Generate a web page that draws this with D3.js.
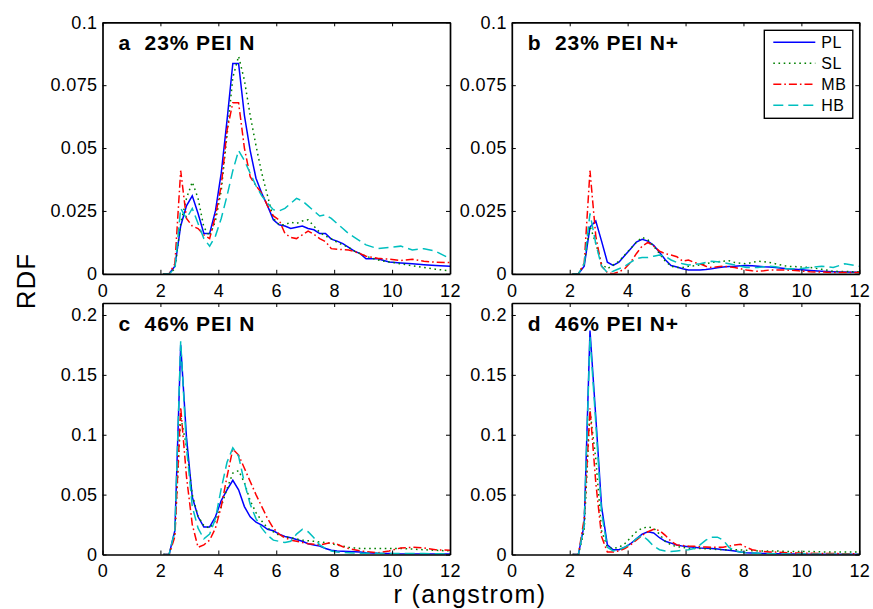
<!DOCTYPE html>
<html>
<head>
<meta charset="utf-8">
<script src="https://cdn.jsdelivr.net/npm/d3@7"></script>
<style>
  body { margin: 0; background: #fff; }
  text { font-family: "Liberation Sans", Arial, Helvetica, sans-serif; }
</style>
</head>
<body>
<svg id="chart" width="873" height="609"></svg>
<script>
// r grid (angstrom), shared by every curve; everything below 2.1 is zero
var R = [2.1, 2.3, 2.5, 2.7, 2.9, 3.1, 3.3, 3.5, 3.7, 3.9, 4.1, 4.3, 4.5, 4.7, 4.9, 5.1, 5.3, 5.5, 5.7, 5.9,
  6.1, 6.3, 6.5, 6.7, 6.9, 7.1, 7.3, 7.5, 7.7, 7.9, 8.1, 8.3, 8.5, 8.7, 8.9, 9.1, 9.5, 9.9, 10.3, 10.7, 11.1, 11.5, 12];

var SERIES_NAMES = ["PL", "SL", "MB", "HB"];
var X_TICKS = [0, 2, 4, 6, 8, 10, 12];
var Y_TICKS_23 = [0, 0.025, 0.05, 0.075, 0.1];
var Y_TICKS_46 = [0, 0.05, 0.1, 0.15, 0.2];
var PANEL_TITLES = ["a  23% PEI N", "b  23% PEI N+", "c  46% PEI N", "d  46% PEI N+"];

// a: 23% PEI N
var pl23N = [0, 0, 0.003, 0.019, 0.027, 0.031, 0.024, 0.016, 0.016, 0.025, 0.040, 0.061, 0.0836, 0.0836, 0.063, 0.049, 0.038, 0.032, 0.027, 0.0215,
  0.0195, 0.019, 0.018, 0.0185, 0.019, 0.018, 0.0175, 0.016, 0.016, 0.0138, 0.013, 0.012, 0.0105, 0.009, 0.008, 0.006, 0.006, 0.0047, 0.0043, 0.004, 0.0036, 0.0033, 0.003];
var sl23N = [0, 0, 0.002, 0.02, 0.03, 0.0365, 0.030, 0.0185, 0.015, 0.021, 0.033, 0.055, 0.078, 0.0865, 0.077, 0.063, 0.051, 0.040, 0.031, 0.022,
  0.0195, 0.0195, 0.0205, 0.020, 0.021, 0.0215, 0.019, 0.0165, 0.015, 0.014, 0.0125, 0.0115, 0.0105, 0.009, 0.008, 0.007, 0.0055, 0.0047, 0.004, 0.0032, 0.0025, 0.0018, 0.0012];
var mb23N = [0, 0, 0.004, 0.041, 0.022, 0.019, 0.018, 0.0155, 0.014, 0.023, 0.035, 0.057, 0.068, 0.068, 0.050, 0.0386, 0.035, 0.032, 0.027, 0.023,
  0.0214, 0.016, 0.0145, 0.014, 0.0155, 0.017, 0.0157, 0.014, 0.0128, 0.010, 0.0098, 0.0096, 0.0095, 0.0088, 0.008, 0.007, 0.0062, 0.0058, 0.0053, 0.0058, 0.005, 0.0046, 0.0045];
var hb23N = [0, 0, 0.002, 0.026, 0.022, 0.026, 0.020, 0.014, 0.011, 0.015, 0.022, 0.031, 0.041, 0.049, 0.045, 0.040, 0.035, 0.031, 0.028, 0.0255,
  0.025, 0.026, 0.028, 0.030, 0.029, 0.027, 0.025, 0.023, 0.0235, 0.022, 0.020, 0.018, 0.016, 0.0145, 0.013, 0.0115, 0.010, 0.0105, 0.011, 0.0095, 0.010, 0.009, 0.006];

// b: 23% PEI N+
var pl23Np = [0, 0, 0.003, 0.0186, 0.021, 0.013, 0.0046, 0.0033, 0.0046, 0.0073, 0.0099, 0.0126, 0.0137, 0.013, 0.0113, 0.0086, 0.0056, 0.0033, 0.0027, 0.002,
  0.0015, 0.0015, 0.0015, 0.0017, 0.002, 0.0024, 0.0027, 0.0029, 0.003, 0.0032, 0.0033, 0.0032, 0.003, 0.0028, 0.0027, 0.0025, 0.002, 0.0017, 0.0013, 0.001, 0.0008, 0.0007, 0.0006];
var sl23Np = [0, 0, 0.004, 0.019, 0.012, 0.004, 0.002, 0.0035, 0.005, 0.0075, 0.010, 0.0125, 0.0145, 0.0135, 0.011, 0.008, 0.005, 0.003, 0.0025, 0.0025,
  0.003, 0.0032, 0.0035, 0.004, 0.0045, 0.0048, 0.005, 0.0052, 0.0045, 0.0042, 0.004, 0.0045, 0.005, 0.0048, 0.0045, 0.004, 0.003, 0.0028, 0.0025, 0.0018, 0.001, 0.0009, 0.0008];
var mb23Np = [0, 0, 0.004, 0.041, 0.015, 0.003, 0.0005, 0, 0.0008, 0.002, 0.0045, 0.008, 0.011, 0.0125, 0.011, 0.009, 0.008, 0.0075, 0.0068, 0.005,
  0.0055, 0.0045, 0.004, 0.003, 0.0025, 0.0028, 0.003, 0.0028, 0.0025, 0.002, 0.0015, 0.0012, 0.001, 0.0012, 0.0015, 0.0015, 0.0015, 0.0012, 0.0008, 0.0007, 0.0005, 0.0005, 0.0005];
var hb23Np = [0, 0, 0.004, 0.024, 0.012, 0.003, 0.0005, 0.001, 0.002, 0.003, 0.0045, 0.006, 0.0065, 0.0065, 0.007, 0.0075, 0.007, 0.0055, 0.0045, 0.004,
  0.0035, 0.0037, 0.004, 0.0045, 0.005, 0.0048, 0.0045, 0.004, 0.0035, 0.003, 0.0025, 0.0025, 0.0025, 0.0028, 0.003, 0.0028, 0.002, 0.002, 0.0025, 0.003, 0.0025, 0.004, 0.003];

// c: 46% PEI N
var pl46N = [0, 0, 0.02, 0.175, 0.098, 0.048, 0.0315, 0.023, 0.023, 0.0315, 0.045, 0.054, 0.062, 0.054, 0.040, 0.0315, 0.027, 0.0245, 0.021, 0.0198,
  0.017, 0.015, 0.014, 0.0125, 0.011, 0.009, 0.008, 0.007, 0.005, 0.0035, 0.003, 0.0028, 0.0025, 0.0022, 0.002, 0.0015, 0.001, 0.0008, 0.0005, 0.0005, 0.0005, 0.0005, 0.0005];
var sl46N = [0, 0, 0.018, 0.115, 0.09, 0.05, 0.032, 0.024, 0.022, 0.028, 0.040, 0.055, 0.068, 0.070, 0.060, 0.045, 0.035, 0.028, 0.022, 0.019,
  0.016, 0.0145, 0.014, 0.013, 0.012, 0.0115, 0.011, 0.0105, 0.010, 0.009, 0.008, 0.007, 0.006, 0.0055, 0.005, 0.005, 0.005, 0.005, 0.005, 0.0045, 0.004, 0.0035, 0.003];
var mb46N = [0, 0, 0.015, 0.123, 0.065, 0.025, 0.006, 0.008, 0.012, 0.022, 0.040, 0.065, 0.088, 0.083, 0.072, 0.061, 0.050, 0.040, 0.030, 0.022,
  0.017, 0.014, 0.012, 0.011, 0.010, 0.009, 0.0085, 0.008, 0.009, 0.010, 0.0085, 0.0065, 0.005, 0.004, 0.003, 0.0025, 0.0015, 0.003, 0.0055, 0.006, 0.0055, 0.004, 0.0035];
var hb46N = [0, 0, 0.02, 0.178, 0.09, 0.04, 0.022, 0.013, 0.017, 0.030, 0.055, 0.077, 0.089, 0.082, 0.060, 0.042, 0.030, 0.022, 0.016, 0.012,
  0.011, 0.010, 0.011, 0.017, 0.021, 0.019, 0.014, 0.008, 0.005, 0.003, 0.002, 0.0018, 0.0015, 0.0012, 0.001, 0.001, 0.001, 0.0009, 0.0008, 0.0008, 0.0008, 0.0006, 0.0005];

// d: 46% PEI N+
var pl46Np = [0, 0, 0.025, 0.187, 0.115, 0.04, 0.008, 0.004, 0.004, 0.006, 0.009, 0.013, 0.017, 0.019, 0.018, 0.014, 0.011, 0.0095, 0.008, 0.007,
  0.0065, 0.006, 0.0055, 0.0052, 0.005, 0.0045, 0.004, 0.0035, 0.003, 0.002, 0.0015, 0.0012, 0.001, 0.0009, 0.0008, 0.0007, 0.0005, 0.0004, 0.0003, 0.0003, 0.0003, 0.0003, 0.0003];
var sl46Np = [0, 0, 0.02, 0.12, 0.08, 0.02, 0.006, 0.005, 0.006, 0.009, 0.014, 0.019, 0.022, 0.023, 0.022, 0.017, 0.011, 0.008, 0.0065, 0.006,
  0.005, 0.005, 0.005, 0.0048, 0.0045, 0.0042, 0.004, 0.004, 0.004, 0.0038, 0.0035, 0.0032, 0.003, 0.003, 0.003, 0.003, 0.0025, 0.0025, 0.0025, 0.0022, 0.002, 0.002, 0.002];
var mb46Np = [0, 0, 0.03, 0.122, 0.06, 0.015, 0.002, 0.002, 0.003, 0.005, 0.008, 0.012, 0.016, 0.019, 0.021, 0.020, 0.016, 0.011, 0.008, 0.0075,
  0.007, 0.0068, 0.0065, 0.0062, 0.006, 0.006, 0.006, 0.007, 0.008, 0.0085, 0.006, 0.004, 0.003, 0.0025, 0.002, 0.002, 0.0015, 0.0012, 0.001, 0.0009, 0.0008, 0.0006, 0.0005];
var hb46Np = [0, 0, 0.025, 0.182, 0.11, 0.035, 0.006, 0.003, 0.004, 0.006, 0.009, 0.013, 0.016, 0.012, 0.007, 0.004, 0.003, 0.0025, 0.003, 0.0035,
  0.004, 0.005, 0.008, 0.012, 0.0145, 0.0145, 0.012, 0.006, 0.003, 0.002, 0.0015, 0.0012, 0.001, 0.0008, 0.0007, 0.0006, 0.0005, 0.0004, 0.0004, 0.0003, 0.0003, 0.0003, 0.0003];

// layout
var PANEL_W = 347.5;
var PANEL_H = 251.5;
var PANEL_LEFTS = [102.5, 511.8];
var PANEL_TOPS = [22.3, 303];
var TICK_LEN = 4;

var STYLES = {
  PL: { color: "#0000ff", dash: null },
  SL: { color: "#008000", dash: "1.6,3.6" },
  MB: { color: "#ff0000", dash: "8,3,1.6,3" },
  HB: { color: "#00bfbf", dash: "10,5" }
};

var panels = [
  { title: PANEL_TITLES[0], yMax: 0.1, yTicks: Y_TICKS_23, curves: [pl23N, sl23N, mb23N, hb23N], col: 0, row: 0, legend: false },
  { title: PANEL_TITLES[1], yMax: 0.1, yTicks: Y_TICKS_23, curves: [pl23Np, sl23Np, mb23Np, hb23Np], col: 1, row: 0, legend: true },
  { title: PANEL_TITLES[2], yMax: 0.21, yTicks: Y_TICKS_46, curves: [pl46N, sl46N, mb46N, hb46N], col: 0, row: 1, legend: false },
  { title: PANEL_TITLES[3], yMax: 0.21, yTicks: Y_TICKS_46, curves: [pl46Np, sl46Np, mb46Np, hb46Np], col: 1, row: 1, legend: false }
];

var svg = d3.select("#chart");
svg.append("rect").attr("width", 873).attr("height", 609).attr("fill", "#fff");

function fmtTick(d) {
  return d === 0 ? "0" : String(+d.toFixed(4));
}

function drawPanel(p, i) {
  var left = PANEL_LEFTS[p.col];
  var top = PANEL_TOPS[p.row];
  var g = svg.append("g").attr("transform", "translate(" + left + "," + top + ")");

  var x = d3.scaleLinear().domain([0, 12]).range([0, PANEL_W]);
  var y = d3.scaleLinear().domain([0, p.yMax]).range([PANEL_H, 0]);

  g.append("clipPath").attr("id", "clip" + i)
    .append("rect").attr("width", PANEL_W).attr("height", PANEL_H);

  var line = d3.line()
    .x(function (d, k) { return x(R[k]); })
    .y(function (d) { return y(d); });

  var lines = g.append("g").attr("clip-path", "url(#clip" + i + ")");
  p.curves.forEach(function (vals, s) {
    var st = STYLES[SERIES_NAMES[s]];
    lines.append("path")
      .datum(vals)
      .attr("d", line)
      .attr("fill", "none")
      .attr("stroke", st.color)
      .attr("stroke-width", 1.5)
      .attr("stroke-dasharray", st.dash);
  });

  // axes, ticks pointing inward on all four sides
  g.append("g").attr("transform", "translate(0," + PANEL_H + ")")
    .call(d3.axisBottom(x).tickValues(X_TICKS).tickFormat(fmtTick).tickSize(-TICK_LEN).tickSizeOuter(0).tickPadding(10));
  g.append("g")
    .call(d3.axisLeft(y).tickValues(p.yTicks).tickFormat(fmtTick).tickSize(-TICK_LEN).tickSizeOuter(0).tickPadding(5));
  g.append("g")
    .call(d3.axisTop(x).tickValues(X_TICKS).tickFormat("").tickSize(-TICK_LEN).tickSizeOuter(0));
  g.append("g").attr("transform", "translate(" + PANEL_W + ",0)")
    .call(d3.axisRight(y).tickValues(p.yTicks).tickFormat("").tickSize(-TICK_LEN).tickSizeOuter(0));

  g.selectAll(".domain").attr("stroke", "#000").attr("stroke-width", 1.7);
  g.selectAll(".tick line").attr("stroke", "#000").attr("stroke-width", 1);
  g.selectAll(".tick text")
    .attr("fill", "#000")
    .style("font-size", "18px")
    .style("font-family", "'Liberation Sans', Arial, sans-serif")
    .style("letter-spacing", "0.4px");

  g.append("text")
    .attr("x", 16)
    .attr("y", 28)
    .style("font-size", "21px")
    .style("font-weight", "bold")
    .style("letter-spacing", "0.9px")
    .style("white-space", "pre")
    .text(p.title);

  if (p.legend) {
    var lg = g.append("g").attr("transform", "translate(" + (PANEL_W - 95) + ",8)");
    lg.append("rect")
      .attr("width", 88.5)
      .attr("height", 88)
      .attr("fill", "#fff")
      .attr("stroke", "#000")
      .attr("stroke-width", 1.4);
    SERIES_NAMES.forEach(function (name, s) {
      var yy = 12 + s * 21;
      lg.append("line")
        .attr("x1", 9).attr("x2", 51)
        .attr("y1", yy).attr("y2", yy)
        .attr("stroke", STYLES[name].color)
        .attr("stroke-width", 1.5)
        .attr("stroke-dasharray", STYLES[name].dash);
      lg.append("text")
        .attr("x", 57)
        .attr("y", yy)
        .attr("dy", "0.36em")
        .style("font-size", "16px")
        .style("letter-spacing", "0.5px")
        .text(name);
    });
  }
}

panels.forEach(drawPanel);

svg.append("text")
  .attr("transform", "translate(35,281) rotate(-90)")
  .attr("text-anchor", "middle")
  .style("font-size", "26px")
  .style("letter-spacing", "1px")
  .text("RDF");

svg.append("text")
  .attr("x", 470)
  .attr("y", 603)
  .attr("text-anchor", "middle")
  .style("font-size", "25px")
  .style("letter-spacing", "1.4px")
  .text("r (angstrom)");
</script>
</body>
</html>
